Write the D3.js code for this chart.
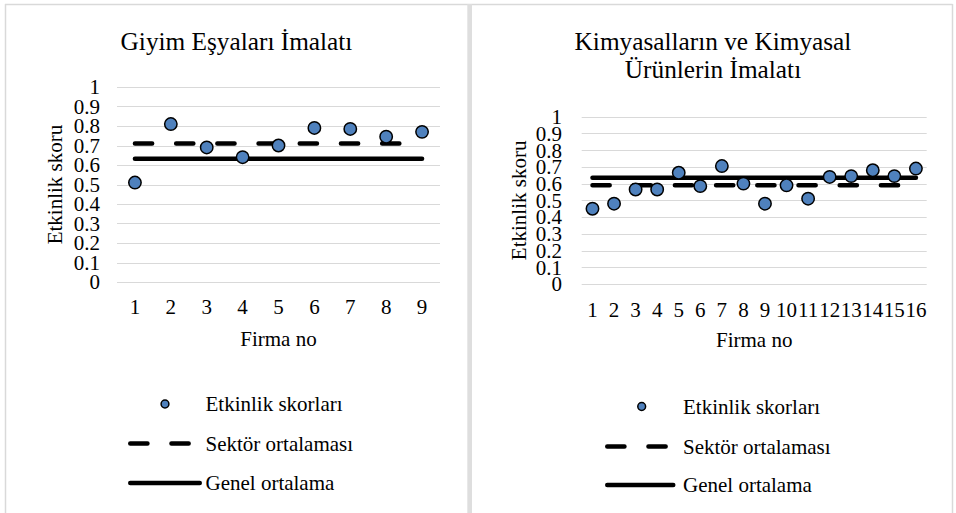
<!DOCTYPE html>
<html><head><meta charset="utf-8">
<script src="https://cdn.jsdelivr.net/npm/d3@7"></script>
<style>
html,body{margin:0;padding:0;background:#fff;}
svg{display:block;}
</style></head>
<body>
<svg id="c" width="956" height="513" font-family="'Liberation Serif', 'DejaVu Serif', 'Times New Roman', serif"></svg>
<script>
// ---- Data ----
const giyimFirms = ["1","2","3","4","5","6","7","8","9"];
const giyimScores = [0.51,0.81,0.69,0.64,0.70,0.79,0.785,0.745,0.77];
const giyimSector = 0.71;
const giyimGeneral = 0.632;

const kimyaFirms = ["1","2","3","4","5","6","7","8","9","10","11","12","13","14","15","16"];
const kimyaScores = [0.45,0.48,0.565,0.565,0.665,0.585,0.705,0.60,0.48,0.59,0.51,0.64,0.645,0.68,0.645,0.69];
const kimyaSector = 0.59;
const kimyaGeneral = 0.635;

const yTicks = [0,0.1,0.2,0.3,0.4,0.5,0.6,0.7,0.8,0.9,1];
const legendLabels = ["Etkinlik skorları","Sektör ortalaması","Genel ortalama"];
const titles1 = ["Giyim Eşyaları İmalatı"];
const titles2 = ["Kimyasalların ve Kimyasal","Ürünlerin İmalatı"];
const xTitle = "Firma no";
const yTitle = "Etkinlik skoru";

// ---- Drawing ----
const FONT = "'Liberation Serif', 'DejaVu Serif', 'Times New Roman', serif";
const svg = d3.select("#c");
const GRID = "#d9d9d9";
const BLUE = "#4f81bd";
const DASH = "17.2 24";

// panel frame
svg.append("path").attr("d","M5,4.5 H952.5").attr("stroke",GRID).attr("stroke-width",1.5).attr("fill","none");
svg.append("path").attr("d","M5.5,4 V513").attr("stroke",GRID).attr("stroke-width",1.5).attr("fill","none");
svg.append("path").attr("d","M952.5,4 V513").attr("stroke",GRID).attr("stroke-width",1.5).attr("fill","none");
svg.append("rect").attr("x",467.3).attr("y",4).attr("width",4.7).attr("height",509).attr("fill","#dedede");

function txt(sel){ return sel.attr("font-family",FONT).attr("fill","#000"); }

function panel(cfg){
  const g = svg.append("g");
  const x = d3.scaleBand().domain(cfg.firms).range([cfg.x0,cfg.x1]).padding(0);
  const y = d3.scaleLinear().domain([0,1]).range([cfg.y0,cfg.y1]);
  const cx = d => x(d)+x.bandwidth()/2;

  // gridlines
  g.selectAll("line.grid").data(yTicks).join("line")
    .attr("x1",cfg.x0).attr("x2",cfg.x1)
    .attr("y1",d=>Math.round(y(d))+0.5).attr("y2",d=>Math.round(y(d))+0.5)
    .attr("stroke",GRID).attr("stroke-width",1);

  // y tick labels
  txt(g.selectAll("text.yt").data(yTicks).join("text"))
    .attr("x",cfg.yLabX).attr("y",d=>y(d)).attr("dy","0.35em")
    .attr("text-anchor","end").attr("font-size",21)
    .text(d=>d3.format("~g")(d));

  // x tick labels
  txt(g.selectAll("text.xt").data(cfg.firms).join("text"))
    .attr("x",d=>cx(d)).attr("y",cfg.xLabY)
    .attr("text-anchor","middle").attr("font-size",21)
    .text(d=>d);

  // axis titles
  txt(g.append("text")).attr("x",(cfg.x0+cfg.x1)/2).attr("y",cfg.xTitleY)
    .attr("text-anchor","middle").attr("font-size",21).text(xTitle);
  txt(g.append("text")).attr("transform",`translate(${cfg.yTitleX},${(cfg.y0+cfg.y1)/2}) rotate(-90)`)
    .attr("dy","0.35em").attr("text-anchor","middle").attr("font-size",21).text(yTitle);

  // chart title
  txt(g.selectAll("text.title").data(cfg.title).join("text"))
    .attr("x",cfg.titleX).attr("y",(d,i)=>50+i*27.5)
    .attr("text-anchor","middle").attr("font-size",25.3).text(d=>d);

  // general average (solid)
  g.append("path")
    .attr("d",d3.line().x(d=>cx(d)).y(()=>y(cfg.general))(cfg.firms))
    .attr("fill","none").attr("stroke","#000").attr("stroke-width",4.5)
    .attr("stroke-linecap","round");
  // sector average (dashed)
  g.append("path")
    .attr("d",d3.line().x(d=>cx(d)).y(()=>y(cfg.sector))(cfg.firms))
    .attr("fill","none").attr("stroke","#000").attr("stroke-width",4.5)
    .attr("stroke-linecap","round").attr("stroke-dasharray",DASH);
  // scores
  g.selectAll("circle.pt").data(cfg.scores).join("circle")
    .attr("cx",(d,i)=>cx(cfg.firms[i])).attr("cy",d=>y(d)).attr("r",6.2)
    .attr("fill",BLUE).attr("stroke","#000").attr("stroke-width",1.5);

  // legend
  const L = cfg.legend;
  g.append("circle").attr("cx",L.mx).attr("cy",L.y[0]).attr("r",3.9)
    .attr("fill",BLUE).attr("stroke","#000").attr("stroke-width",1.5);
  g.append("path").attr("d",`M${L.lx0+2.25},${L.y[1]} H${L.lx0+62.8}`)
    .attr("fill","none").attr("stroke","#000").attr("stroke-width",4.5)
    .attr("stroke-linecap","round").attr("stroke-dasharray",DASH);
  g.append("path").attr("d",`M${L.lx0+2.25},${L.y[2]} H${L.lx1-2.25}`)
    .attr("fill","none").attr("stroke","#000").attr("stroke-width",4.5)
    .attr("stroke-linecap","round");
  txt(g.selectAll("text.leg").data(legendLabels).join("text"))
    .attr("x",L.tx).attr("y",(d,i)=>L.y[i]).attr("dy","0.35em")
    .attr("font-size",21).text(d=>d);
}

panel({firms:giyimFirms,scores:giyimScores,sector:giyimSector,general:giyimGeneral,
  x0:117,x1:440,y0:282,y1:87,yLabX:100,xLabY:314,xTitleY:346,yTitleX:55,
  title:titles1,titleX:236.5,
  legend:{mx:165,lx0:128,lx1:202,tx:205.5,y:[404,443.5,483]}});

panel({firms:kimyaFirms,scores:kimyaScores,sector:kimyaSector,general:kimyaGeneral,
  x0:581.7,x1:926.7,y0:284,y1:116.7,yLabX:562,xLabY:316.5,xTitleY:347,yTitleX:518.3,
  title:titles2,titleX:713,
  legend:{mx:641.7,lx0:605,lx1:675.5,tx:683,y:[406.5,446.5,485]}});
</script>
</body></html>
